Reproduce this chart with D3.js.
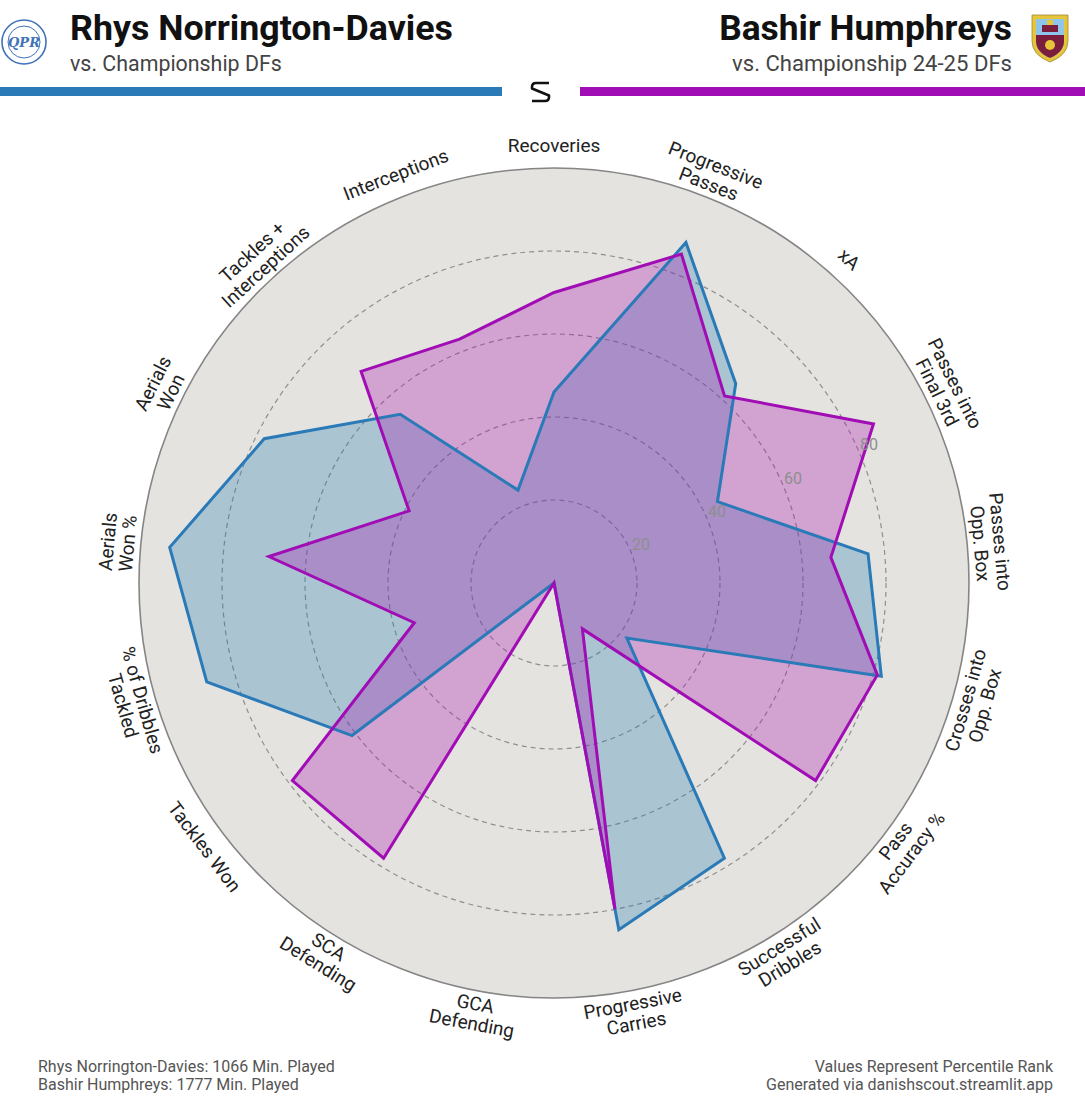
<!DOCTYPE html>
<html><head><meta charset="utf-8">
<script src="https://cdn.jsdelivr.net/npm/d3@7"></script>
<style>body{margin:0;background:#fff;} svg{display:block;}</style>
</head><body>
<svg id="chart" width="1085" height="1100"></svg>
<script>
const categories = ["Recoveries","Progressive\nPasses","xA","Passes into\nFinal 3rd","Passes into\nOpp. Box","Crosses into\nOpp. Box","Pass\nAccuracy %","Successful\nDribbles","Progressive\nCarries","GCA\nDefending","SCA\nDefending","Tackles Won","% of Dribbles\nTackled","Aerials\nWon %","Aerials\nWon","Tackles +\nInterceptions","Interceptions"];
const playerNames = ["Rhys Norrington-Davies","Bashir Humphreys"];
const playerSubtitles = ["vs. Championship DFs","vs. Championship 24-25 DFs"];
const minutesPlayed = [1066, 1777];
const rndValues = [46, 88, 65, 44, 76, 82, 22, 78, 85, 0, 0, 61, 87, 93, 78, 55, 24];
const bhValues  = [70, 85, 61, 86, 67, 81, 79, 13, 80, 0, 78, 79, 35, 69, 39, 69, 63];
const ringTicks = [20, 40, 60, 80];
const footerRight = ["Values Represent Percentile Rank","Generated via danishscout.streamlit.app"];

const cx = 554, cy = 583, R = 415;
const blue = "#2a7ab8", purple = "#a10db5";
const svg = d3.select("#chart");
const font = "Roboto, 'Noto Sans', sans-serif";

const angle = d3.scaleLinear().domain([0, categories.length]).range([0, 2 * Math.PI]);
const r = d3.scaleLinear().domain([0, 100]).range([0, R]);

// ---------- header ----------
const hdr = svg.append("g");
// QPR badge
const qpr = hdr.append("g").attr("transform", "translate(24,42)");
qpr.append("circle").attr("r", 22).attr("fill", "#fff").attr("stroke", "#3f72b8").attr("stroke-width", 1.6);
qpr.append("circle").attr("r", 16).attr("fill", "none").attr("stroke", "#3f72b8").attr("stroke-width", 1);
qpr.append("text").attr("y", 5).attr("text-anchor", "middle").attr("font-family", "'DejaVu Serif', serif")
  .attr("font-size", 13).attr("font-style", "italic").attr("fill", "#3f72b8").attr("font-weight", "bold").text("QPR");

// Burnley crest
const bur = hdr.append("g").attr("transform", "translate(1050,37)");
bur.append("path").attr("d", "M-18,-22 H18 V4 Q18,18 0,25 Q-18,18 -18,4 Z").attr("fill", "#e6c53a").attr("stroke", "#9a8a3a").attr("stroke-width", 0.8);
bur.append("path").attr("d", "M-14,-18 H14 V4 Q14,15 0,21 Q-14,15 -14,4 Z").attr("fill", "#8ec5ea");
bur.append("path").attr("d", "M-14,-2 H14 V4 Q14,15 0,21 Q-14,15 -14,4 Z").attr("fill", "#7b1e3e");
bur.append("rect").attr("x", -8).attr("y", -12).attr("width", 16).attr("height", 7).attr("fill", "#7b1e3e");
bur.append("rect").attr("x", -3).attr("y", -17).attr("width", 6).attr("height", 5).attr("fill", "#e6c53a");
bur.append("circle").attr("cy", 8).attr("r", 5).attr("fill", "#e6c53a");

function fitText(sel, w) {
  const len = sel.node().getComputedTextLength();
  const fs = parseFloat(sel.attr("font-size"));
  sel.attr("font-size", fs * w / len);
}

const t1 = hdr.append("text").attr("x", 70).attr("y", 40).attr("font-family", font).attr("font-weight", "bold")
  .attr("font-size", 34).attr("fill", "#111").text(playerNames[0]);
fitText(t1, 383);
const s1 = hdr.append("text").attr("x", 70).attr("y", 71).attr("font-family", font)
  .attr("font-size", 22).attr("fill", "#444").text(playerSubtitles[0]);
fitText(s1, 212);
const t2 = hdr.append("text").attr("x", 1012).attr("y", 40).attr("text-anchor", "end").attr("font-family", font).attr("font-weight", "bold")
  .attr("font-size", 34).attr("fill", "#111").text(playerNames[1]);
fitText(t2, 293);
const s2 = hdr.append("text").attr("x", 1012).attr("y", 71).attr("text-anchor", "end").attr("font-family", font)
  .attr("font-size", 22).attr("fill", "#444").text(playerSubtitles[1]);
fitText(s2, 280);

hdr.append("rect").attr("x", 0).attr("y", 87).attr("width", 502).attr("height", 9).attr("fill", blue);
hdr.append("rect").attr("x", 580).attr("y", 87).attr("width", 505).attr("height", 9).attr("fill", purple);
// small S logo
hdr.append("path").attr("d", "M549,83 H536 Q532,83 532,87 V88.5 L549,95.5 V97 Q549,101 545,101 H532")
  .attr("fill", "none").attr("stroke", "#111").attr("stroke-width", 2.6).attr("stroke-linejoin", "round");

// ---------- radar ----------
const g = svg.append("g").attr("transform", `translate(${cx},${cy})`);
g.append("circle").attr("r", R).attr("fill", "#e4e3df").attr("stroke", "#858585").attr("stroke-width", 1.6);

g.selectAll("circle.ring").data(ringTicks).join("circle").attr("class", "ring")
  .attr("r", d => r(d)).attr("fill", "none").attr("stroke", "#8f8f8f")
  .attr("stroke-width", 1.2).attr("stroke-dasharray", "5,4");

const radial = d3.lineRadial().angle((d, i) => angle(i)).radius(d => r(d)).curve(d3.curveLinearClosed);

const series = [
  { values: rndValues, stroke: blue, fill: "rgba(31,119,180,0.29)" },
  { values: bhValues, stroke: purple, fill: "rgba(168,18,178,0.30)" }
];
g.selectAll("path.area").data(series).join("path").attr("class", "area")
  .attr("d", d => radial(d.values)).attr("fill", d => d.fill).attr("stroke", "none");
g.selectAll("path.outline").data(series).join("path").attr("class", "outline")
  .attr("d", d => radial(d.values)).attr("fill", "none")
  .attr("stroke", d => d.stroke).attr("stroke-width", 3).attr("stroke-linejoin", "miter");

// tick labels
const tickAng = 66.3 * Math.PI / 180;
g.selectAll("text.tick").data(ringTicks).join("text").attr("class", "tick")
  .attr("x", d => (r(d) + 12) * Math.sin(tickAng))
  .attr("y", d => -(r(d) + 12) * Math.cos(tickAng))
  .attr("text-anchor", "middle").attr("dominant-baseline", "central")
  .attr("font-family", font).attr("font-size", 16).attr("fill", "#8e8e8e").text(d => d);

// category labels
const labR = 438;
const labs = g.selectAll("text.cat").data(categories).join("text").attr("class", "cat")
  .attr("text-anchor", "middle").attr("font-family", font).attr("font-size", 19).attr("fill", "#222")
  .attr("transform", (d, i) => {
    const a = angle(i), deg = a * 180 / Math.PI;
    const x = labR * Math.sin(a), y = -labR * Math.cos(a);
    let rot = deg;
    if (deg > 90 && deg < 270) rot = deg - 180;
    else if (deg >= 270) rot = deg - 360;
    return `translate(${x},${y}) rotate(${rot})`;
  });
labs.each(function (d) {
  const lines = d.split("\n");
  const n = lines.length;
  d3.select(this).selectAll("tspan").data(lines).join("tspan")
    .attr("x", 0).attr("y", (l, k) => (k - (n - 1) / 2) * 20)
    .attr("dominant-baseline", "central").text(l => l);
});

// ---------- footer ----------
const foot = svg.append("g").attr("font-family", font).attr("font-size", 16).attr("fill", "#555");
foot.selectAll("text.fl").data(playerNames).join("text").attr("class", "fl")
  .attr("x", 38).attr("y", (d, i) => 1072 + i * 18)
  .text((d, i) => `${d}: ${minutesPlayed[i]} Min. Played`);
foot.selectAll("text.fr").data(footerRight).join("text").attr("class", "fr")
  .attr("x", 1053).attr("y", (d, i) => 1072 + i * 18).attr("text-anchor", "end").text(d => d);
</script>
</body></html>
